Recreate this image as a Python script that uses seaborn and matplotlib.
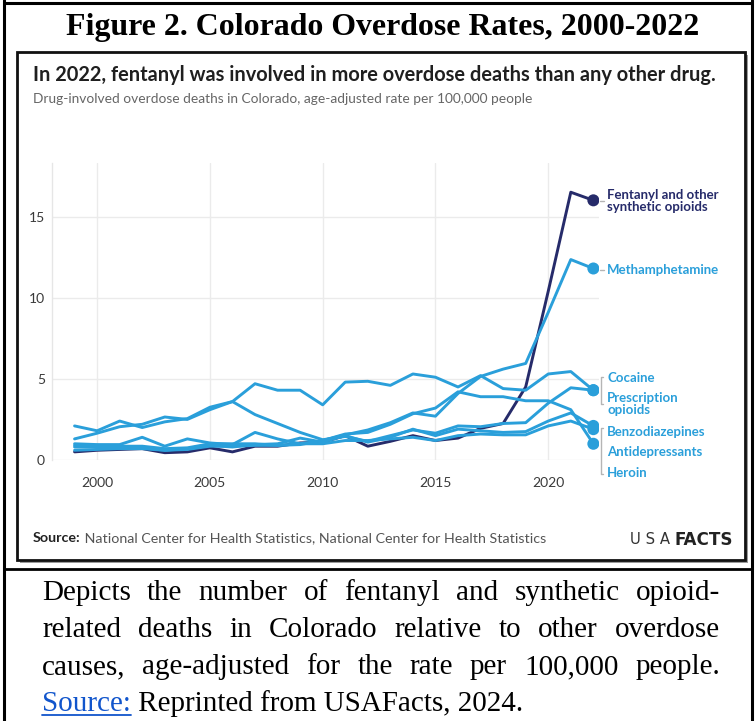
import matplotlib
matplotlib.use("Agg")
import matplotlib.pyplot as plt
import seaborn as sns
import pandas as pd
from matplotlib import font_manager
from matplotlib.lines import Line2D
from matplotlib.patches import Rectangle
from matplotlib.transforms import Affine2D

# ---------------- data ----------------
years = list(range(1999, 2023))
fentanyl = [0.5, 0.6, 0.65, 0.7, 0.45, 0.5, 0.75, 0.5, 0.85, 0.85, 1.05, 1.1,
            1.5, 0.85, 1.15, 1.5, 1.2, 1.35, 1.95, 2.25, 4.5, 10.4, 16.5, 16.0]
methamphetamine = [0.6, 0.65, 0.7, 0.7, 0.6, 0.65, 0.85, 0.85, 0.9, 0.9, 0.95, 1.2,
                   1.55, 1.85, 2.3, 2.9, 2.7, 4.1, 5.15, 5.6, 5.95, 9.1, 12.35, 11.8]
cocaine = [2.1, 1.8, 2.4, 2.0, 2.35, 2.55, 3.25, 3.6, 2.8, 2.25, 1.7, 1.25,
           1.45, 1.15, 1.5, 1.85, 1.65, 2.1, 2.05, 2.25, 2.3, 3.5, 4.45, 4.3]
prescription = [1.3, 1.65, 2.05, 2.2, 2.65, 2.5, 3.1, 3.6, 4.7, 4.3, 4.3, 3.4,
                4.8, 4.85, 4.6, 5.3, 5.1, 4.5, 5.2, 4.4, 4.3, 5.3, 5.45, 4.3]
heroin = [1.0, 0.95, 0.95, 1.4, 0.85, 1.3, 1.05, 0.95, 1.7, 1.3, 1.0, 1.2,
          1.6, 1.7, 2.2, 2.85, 3.2, 4.2, 3.9, 3.9, 3.65, 3.65, 3.1, 1.0]
benzodiazepines = [0.8, 0.8, 0.8, 0.75, 0.6, 0.7, 0.9, 0.8, 0.95, 1.0, 1.35, 1.1,
                   1.5, 1.1, 1.4, 1.9, 1.5, 1.9, 1.8, 1.7, 1.75, 2.4, 2.9, 2.1]
antidepressants = [0.9, 0.9, 0.85, 0.85, 0.7, 0.75, 1.0, 1.0, 1.0, 0.9, 1.0, 1.0,
                   1.2, 1.2, 1.3, 1.4, 1.2, 1.5, 1.6, 1.55, 1.55, 2.1, 2.4, 1.9]

drug_names = ["Fentanyl and other\nsynthetic opioids", "Methamphetamine", "Cocaine",
              "Prescription\nopioids", "Benzodiazepines", "Antidepressants", "Heroin"]
series = [fentanyl, methamphetamine, cocaine, prescription,
          benzodiazepines, antidepressants, heroin]
x_ticks = [2000, 2005, 2010, 2015, 2020]
y_ticks = [0, 5, 10, 15]

NAVY = "#262b6a"
BLUE = "#2a9fda"

df = pd.DataFrame([(d, y, v) for d, s in zip(drug_names, series) for y, v in zip(years, s)],
                  columns=["drug", "year", "rate"])
palette = {d: (NAVY if i == 0 else BLUE) for i, d in enumerate(drug_names)}

# ---------------- style ----------------
sns.set_theme(style="white")
avail = {f.name for f in font_manager.fontManager.ttflist}
SANS = "Lato" if "Lato" in avail else "DejaVu Sans"
SERIF = "Liberation Serif" if "Liberation Serif" in avail else "DejaVu Serif"
plt.rcParams["font.family"] = [SANS, "DejaVu Sans"]

W, H = 755, 721
fig = plt.figure(figsize=(W / 100, H / 100), dpi=100)
fig.patch.set_facecolor("white")
pix = Affine2D().scale(1 / W, -1 / H).translate(0, 1) + fig.transFigure
renderer = fig.canvas.get_renderer()


def width(t):
    return t.get_window_extent(renderer).width


def fit(t, target):
    t.set_fontsize(t.get_fontsize() * target / width(t))
    return t


# ---------------- frames ----------------
for (x0, y0, x1, y1, lw) in [(4, 0, 4, H, 2.2), (752, 0, 752, H, 2.2),
                             (4, 3, 752, 3, 2.2), (4, 569, 752, 569, 2.0)]:
    fig.add_artist(Line2D([x0, x1], [y0, y1], transform=pix, color="black", lw=lw))

fig.add_artist(Rectangle((20, 55), 728, 508, transform=pix, facecolor="#9a9a9a",
                         edgecolor="none", zorder=-2))
fig.add_artist(Rectangle((17, 52), 728, 508, transform=pix, facecolor="white",
                         edgecolor="#111111", lw=2.0, zorder=-1))

# ---------------- outer title ----------------
t = fig.text(383, 27, "Figure 2. Colorado Overdose Rates, 2000-2022", transform=pix,
             ha="center", va="center", family=SERIF, weight="bold", fontsize=20, color="black")
fit(t, 633)

# ---------------- chart header ----------------
t = fig.text(33, 75, "In 2022, fentanyl was involved in more overdose deaths than any other drug.",
             transform=pix, ha="left", va="center", weight="bold", fontsize=14, color="#1f1f1f")
fit(t, 687)
t = fig.text(33, 99, "Drug-involved overdose deaths in Colorado, age-adjusted rate per 100,000 people",
             transform=pix, ha="left", va="center", fontsize=9, color="#666666")
fit(t, 500)

# ---------------- axes ----------------
ax = fig.add_axes([52 / W, 1 - 460 / H, (599 - 52) / W, (460 - 163) / H])
ax.set_zorder(2)
ax.set_facecolor("none")
sns.lineplot(data=df, x="year", y="rate", hue="drug", hue_order=drug_names,
             palette=palette, linewidth=2.1, legend=False, ax=ax, zorder=3)
end = df[df["year"] == years[-1]]
sns.scatterplot(data=end, x="year", y="rate", hue="drug", hue_order=drug_names,
                palette=palette, s=75, edgecolor="none", legend=False, ax=ax, zorder=4)
ax.set_xlim(1998, 2022.25)
ax.set_ylim(0, 18.3)
ax.set_xticks(x_ticks)
ax.set_yticks(y_ticks)
ax.set_xticklabels([str(v) for v in x_ticks])
ax.set_yticklabels([str(v) for v in y_ticks])
ax.grid(True, color="#ebebeb", linewidth=1.0)
ax.set_axisbelow(True)
for s in ["top", "right", "bottom"]:
    ax.spines[s].set_visible(False)
ax.spines["left"].set_color("#e6e6e6")
ax.spines["left"].set_linewidth(1.0)
ax.tick_params(axis="x", length=0, pad=12, labelsize=10, labelcolor="#3a3a3a")
ax.tick_params(axis="y", length=0, pad=5, labelsize=10, labelcolor="#3a3a3a")
ax.set_xlabel("")
ax.set_ylabel("")

# ---------------- end labels ----------------
label_y = [201, 270, 378, 404, 432, 452, 473]
for i, (name, ly) in enumerate(zip(drug_names, label_y)):
    fig.text(607, ly, name, transform=pix, ha="left", va="center", weight="bold",
             fontsize=9.5, linespacing=0.95, color=NAVY if i == 0 else BLUE, zorder=5)
GREY = "#b5b5b5"
for ly in [201, 270]:
    fig.add_artist(Line2D([600, 604], [ly, ly], transform=pix, color=GREY, lw=1))
for (ya, yb) in [(377, 404), (428, 474)]:
    fig.add_artist(Line2D([603, 601, 601, 603], [ya, ya, yb, yb], transform=pix, color=GREY, lw=1))

# ---------------- source line ----------------
s1 = fig.text(33, 538, "Source:", transform=pix, ha="left", va="center",
              weight="bold", fontsize=9.5, color="#222222")
s2 = fig.text(0, 538, " National Center for Health Statistics, National Center for Health Statistics",
              transform=pix, ha="left", va="center", fontsize=9.5, color="#555555")
scale = 516 / (width(s1) + width(s2))
s1.set_fontsize(9.5 * scale)
s2.set_fontsize(9.5 * scale)
s2.set_x(33 + width(s1))
u1 = fig.text(630, 540, "U S A", transform=pix, ha="left", va="center",
              family="DejaVu Sans", fontsize=11, color="#333333")
fit(u1, 40)
u2 = fig.text(0, 540, "FACTS", transform=pix, ha="left", va="center",
              family="DejaVu Sans", weight="bold", fontsize=11, color="#222222")
fit(u2, 58)
u2.set_x(630 + width(u1) + 4)

# ---------------- caption (justified) ----------------
cap_kw = dict(family=SERIF, fontsize=19, color="black")
probe = fig.text(42, 711, "Source: Reprinted from USAFacts, 2024.", transform=pix, **cap_kw)
cap_fs = 19 * 483 / width(probe)
probe.remove()
cap_kw["fontsize"] = cap_fs


def justify(words, x0, x1, y):
    ts = [fig.text(0, y, w, transform=pix, ha="left", va="baseline", **cap_kw) for w in words]
    ws = [width(tt) for tt in ts]
    gap = (x1 - x0 - sum(ws)) / (len(ws) - 1)
    x = x0
    for tt, w in zip(ts, ws):
        tt.set_x(x)
        x += w + gap


justify("Depicts the number of fentanyl and synthetic opioid-".split(), 42, 720, 600)
justify("related deaths in Colorado relative to other overdose".split(), 42, 720, 637)
justify("causes, age-adjusted for the rate per 100,000 people.".split(), 42, 720, 674)
src = fig.text(42, 711, "Source:", transform=pix, ha="left", va="baseline",
               **dict(cap_kw, color="#1155cc"))
sw = width(src)
fig.add_artist(Line2D([42, 42 + sw], [715, 715], transform=pix, color="#1155cc", lw=1.3))
fig.text(42 + sw, 711, " Reprinted from USAFacts, 2024.", transform=pix, ha="left",
         va="baseline", **cap_kw)

fig.savefig("out.png", dpi=100)
